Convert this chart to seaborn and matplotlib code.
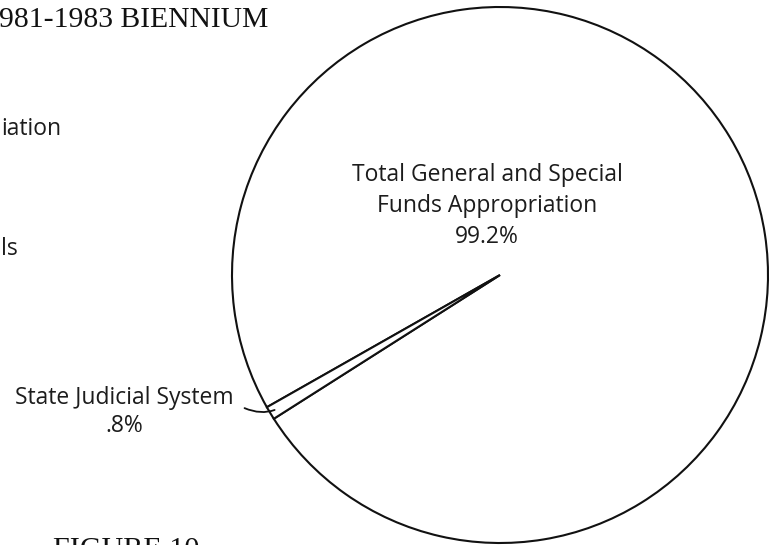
import numpy as np
import matplotlib
matplotlib.use("Agg")
import matplotlib.pyplot as plt
import seaborn as sns

# shares of the 1981-1983 appropriation (percent)
categories = ["Total General and Special\nFunds Appropriation", "State Judicial System"]
shares = [99.2, 0.8]
share_labels = ["99.2%", ".8%"]

title_text = "981-1983 BIENNIUM"
figure_text = "FIGURE 10"
page_scraps = ["iation", "ls"]

sns.set_theme(style="white")
plt.rcParams["font.family"] = ["Open Sans", "DejaVu Sans"]

W, H = 774, 545
fig = plt.figure(figsize=(W / 100, H / 100), dpi=100)
ax = fig.add_axes([0, 0, 1, 1])

cx, cy, r = 500, 270, 268
small_mid = 211.0  # direction of the thin slice, degrees
start = small_mid + shares[1] / sum(shares) * 360 / 2

wedges, _ = ax.pie(shares, radius=r, center=(cx, cy), startangle=start,
                   counterclock=True, colors=["white", "white"],
                   wedgeprops=dict(edgecolor="#111111", linewidth=1.5))

ax.set_xlim(0, W)
ax.set_ylim(0, H)
ax.set_aspect("equal")
ax.axis("off")

txt_kw = dict(color="#1c1c1c", fontsize=16.5)

# big slice label
ax.text(487, 339, categories[0] + "\n" + share_labels[0], ha="center", va="center",
        linespacing=1.4, **txt_kw)

# small slice label with hooked leader
ax.text(124, 133, categories[1] + "\n" + share_labels[1], ha="center", va="center",
        linespacing=1.25, **txt_kw)
ang = np.deg2rad(small_mid)
tip = (cx + 0.97 * r * np.cos(ang), cy + 0.97 * r * np.sin(ang))
ax.annotate("", xy=tip, xytext=(242, 138),
            arrowprops=dict(arrowstyle="-", color="#111111", lw=1.3,
                            connectionstyle="angle3,angleA=-25,angleB=25"))

# page fragments around the chart
ax.text(-1, 518, title_text, ha="left", va="baseline", fontsize=21.3,
        family="Liberation Serif", color="#111111")
ax.text(53, -12, figure_text, ha="left", va="baseline", fontsize=21.7,
        family="Liberation Serif", color="#111111")
ax.text(1, 410, page_scraps[0], ha="left", va="baseline", **txt_kw)
ax.text(1, 290, page_scraps[1], ha="left", va="baseline", **txt_kw)

fig.savefig("out.png", dpi=100)
